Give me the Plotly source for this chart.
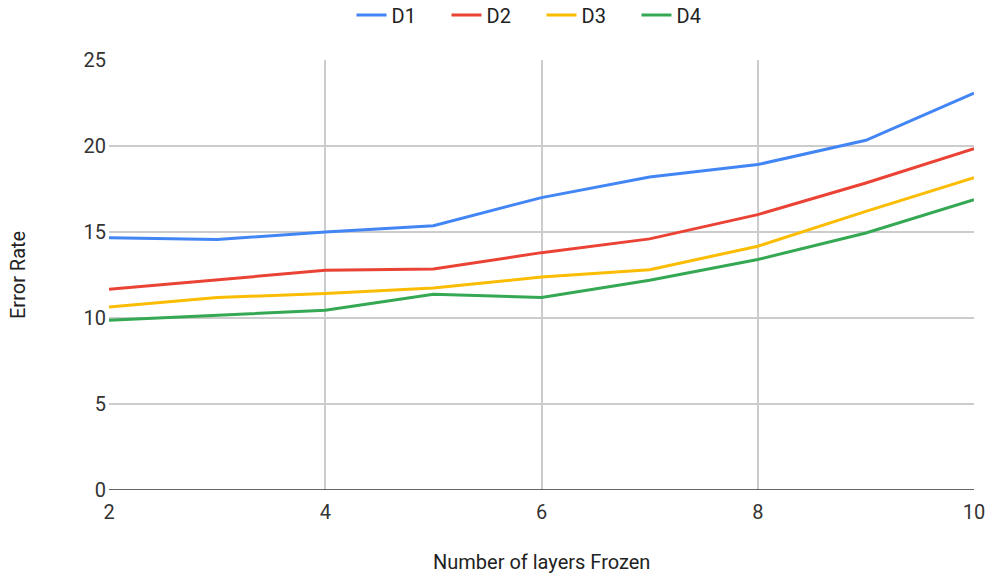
import plotly.graph_objects as go

# Number of frozen layers (x axis)
layers_frozen = [2, 3, 4, 5, 6, 7, 8, 9, 10]

# Error rate per dataset
d1 = [14.67, 14.56, 15.0, 15.37, 17.0, 18.2, 18.92, 20.33, 23.08]
d2 = [11.67, 12.22, 12.77, 12.85, 13.8, 14.6, 16.01, 17.85, 19.85]
d3 = [10.64, 11.19, 11.42, 11.74, 12.38, 12.81, 14.17, 16.2, 18.16]
d4 = [9.87, 10.16, 10.45, 11.38, 11.19, 12.19, 13.4, 14.94, 16.88]

series_names = ["D1", "D2", "D3", "D4"]
series_values = [d1, d2, d3, d4]
series_colors = ["#4285F4", "#EA4335", "#FBBC04", "#34A853"]

x_ticks = [2, 4, 6, 8, 10]
y_ticks = [0, 5, 10, 15, 20, 25]

fig = go.Figure()
for name, vals, color in zip(series_names, series_values, series_colors):
    fig.add_trace(go.Scatter(
        x=layers_frozen, y=vals, name=name, mode="lines",
        line=dict(color=color, width=3),
    ))

font_family = "Roboto, Arial, sans-serif"
tick_color = "#333333"
title_color = "#222222"

fig.update_layout(
    width=987, height=576,
    margin=dict(l=109, r=13, t=60, b=86, autoexpand=False),
    paper_bgcolor="white", plot_bgcolor="white",
    font=dict(family=font_family, size=20, color=tick_color),
    showlegend=True,
    legend=dict(
        orientation="h", x=0.5, xanchor="center", y=0.974, yanchor="middle",
        yref="container", font=dict(size=20, color=title_color),
        itemwidth=30, entrywidth=50, entrywidthmode="pixels",
        traceorder="normal",
    ),
    xaxis=dict(
        range=[2, 10], tickvals=x_ticks, ticktext=[str(v) for v in x_ticks],
        showgrid=True, gridcolor="#cccccc", gridwidth=1.5,
        zeroline=False, showline=False, ticks="", automargin=False,
        ticklabelstandoff=8,
        tickfont=dict(size=20, color=tick_color),
    ),
    yaxis=dict(
        range=[0, 25], tickvals=y_ticks, ticktext=[str(v) for v in y_ticks],
        showgrid=True, gridcolor="#cccccc", gridwidth=1.5,
        zeroline=False, showline=False, ticks="", automargin=False,
        ticklabelstandoff=2,
        tickfont=dict(size=20, color=tick_color),
    ),
)

# Axis titles placed in the margins
fig.add_annotation(text="Number of layers Frozen", xref="paper", yref="paper",
                   x=0.5, y=0, yshift=-86, showarrow=False,
                   font=dict(size=20, color=title_color))
fig.add_annotation(text="Error Rate", xref="paper", yref="paper",
                   x=0, y=0.5, xshift=-105, textangle=-90, showarrow=False,
                   font=dict(size=20, color=title_color))

# Dark baseline along y = 0
fig.add_shape(type="line", xref="paper", yref="y", x0=0, x1=1, y0=0, y1=0,
              line=dict(color="#333333", width=1.5), layer="above")

fig.write_html("out.html")
